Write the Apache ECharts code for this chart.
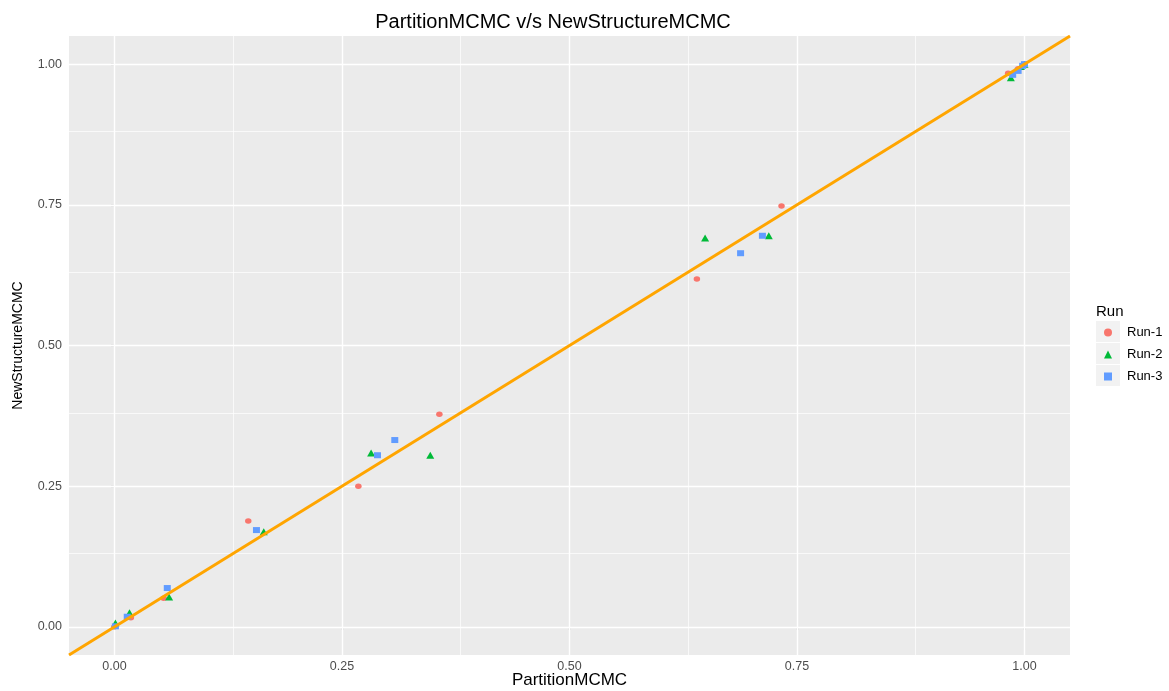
<!DOCTYPE html>
<html>
<head>
<meta charset="utf-8">
<script src="https://cdn.jsdelivr.net/npm/echarts@6/dist/echarts.min.js"></script>
<style>
html,body{margin:0;padding:0;background:#fff;}
#chart{width:1169px;height:691px;}
</style>
</head>
<body>
<div id="chart"></div>
<script>
// ---- data ----
const run1X = [0.000, 0.018, 0.054, 0.147, 0.268, 0.357, 0.640, 0.733, 0.982, 0.993, 1.000];
const run1Y = [0.000, 0.016, 0.051, 0.188, 0.250, 0.378, 0.618, 0.748, 0.984, 0.992, 1.000];
const run2X = [0.001, 0.0165, 0.060, 0.164, 0.282, 0.347, 0.649, 0.719, 0.985, 0.996, 1.000];
const run2Y = [0.007, 0.025, 0.053, 0.169, 0.309, 0.305, 0.691, 0.695, 0.976, 0.996, 1.000];
const run3X = [0.001, 0.014, 0.058, 0.156, 0.289, 0.308, 0.688, 0.712, 0.987, 0.993, 0.998, 1.000];
const run3Y = [0.001, 0.018, 0.069, 0.172, 0.305, 0.332, 0.664, 0.695, 0.981, 0.988, 0.997, 1.000];
const runNames = ['Run-1', 'Run-2', 'Run-3'];
const majorTicks = [0, 0.25, 0.5, 0.75, 1];
const minorTicks = [0.125, 0.375, 0.625, 0.875];
const axisMin = -0.05, axisMax = 1.05;
const refLineX = [-0.05, 1.05];   // y = x reference line
const titleText = 'PartitionMCMC v/s NewStructureMCMC';
const xName = 'PartitionMCMC';
const yName = 'NewStructureMCMC';

const colors = ['#F8766D', '#00BA38', '#619CFF'];
const symbols = ['circle', 'triangle', 'rect'];
const xs = [run1X, run2X, run3X];
const ys = [run1Y, run2Y, run3Y];

const FONT = '"Liberation Sans", Arial, Helvetica, sans-serif';

function gridLines(vals, width) {
  const d = [];
  vals.forEach(v => { d.push({xAxis: v}); d.push({yAxis: v}); });
  return {
    type: 'scatter', data: [], silent: true, z: 1,
    markLine: {
      silent: true, z: 1, symbol: ['none', 'none'], label: {show: false},
      animation: false,
      lineStyle: {color: '#ffffff', width: width, type: 'solid', opacity: 1},
      emphasis: {disabled: true},
      data: d
    }
  };
}

const series = [gridLines(minorTicks, 0.7), gridLines(majorTicks, 1.4)];
runNames.forEach((n, i) => {
  series.push({
    name: n, type: 'scatter', z: 3,
    symbol: symbols[i],
    symbolSize: symbols[i] === 'circle' ? [6.5, 5.5] : (symbols[i] === 'triangle' ? [8, 7] : [7, 6]),
    itemStyle: {color: colors[i], opacity: 1},
    data: xs[i].map((x, k) => [x, ys[i][k]])
  });
});
series.push({
  type: 'line', z: 4, showSymbol: false, silent: true,
  lineStyle: {color: '#FFA500', width: 3},
  data: refLineX.map(v => [v, v])
});

const chart = echarts.init(document.getElementById('chart'), null, {renderer: 'canvas'});
chart.setOption({
  animation: false,
  backgroundColor: '#ffffff',
  title: {
    text: titleText, left: 553, top: 12, textAlign: 'center', padding: 0,
    textStyle: {fontFamily: FONT, fontSize: 20, fontWeight: 'normal', color: '#000'}
  },
  grid: {
    left: 69, top: 36, right: 99, bottom: 36,
    outerBoundsMode: 'none', containLabel: false,
    show: true, backgroundColor: '#EBEBEB', borderWidth: 0
  },
  xAxis: {
    type: 'value', min: axisMin, max: axisMax,
    name: xName, nameLocation: 'middle', nameGap: 17, nameMoveOverlap: false,
    nameTextStyle: {fontFamily: FONT, fontSize: 17, color: '#000', verticalAlign: 'top'},
    axisLine: {show: false},
    axisTick: {show: true, customValues: majorTicks, length: 3.5, lineStyle: {color: '#333', width: 1.1}},
    axisLabel: {customValues: majorTicks, margin: 5, fontFamily: FONT, fontSize: 12.5, color: '#4D4D4D',
      formatter: v => v.toFixed(2)},
    splitLine: {show: false}
  },
  yAxis: {
    type: 'value', min: axisMin, max: axisMax,
    name: yName, nameLocation: 'middle', nameGap: 44, nameRotate: 90, nameMoveOverlap: false,
    nameTextStyle: {fontFamily: FONT, fontSize: 14, color: '#000'},
    axisLine: {show: false},
    axisTick: {show: true, customValues: majorTicks, length: 3.5, lineStyle: {color: '#333', width: 1.1}},
    axisLabel: {customValues: majorTicks, margin: 7, fontFamily: FONT, fontSize: 12.5, color: '#4D4D4D',
      formatter: v => v.toFixed(2)},
    splitLine: {show: false}
  },
  legend: {
    orient: 'vertical', left: 1104, top: 326, itemWidth: 8, itemHeight: 8, itemGap: 9,
    padding: 0, selectedMode: false,
    textStyle: {fontFamily: FONT, fontSize: 13, color: '#000', padding: [0, 0, 0, 10]},
    data: runNames.map((n, i) => ({name: n, icon: symbols[i]}))
  },
  graphic: [
    {type: 'text', left: 1096, top: 304, style: {text: 'Run', font: '15px ' + FONT, fill: '#000'}},
    {type: 'rect', shape: {x: 1096, y: 321, width: 24, height: 21}, style: {fill: '#F2F2F2'}, z: -1},
    {type: 'rect', shape: {x: 1096, y: 343, width: 24, height: 21}, style: {fill: '#F2F2F2'}, z: -1},
    {type: 'rect', shape: {x: 1096, y: 365, width: 24, height: 21}, style: {fill: '#F2F2F2'}, z: -1}
  ],
  series: series
});
</script>
</body>
</html>
